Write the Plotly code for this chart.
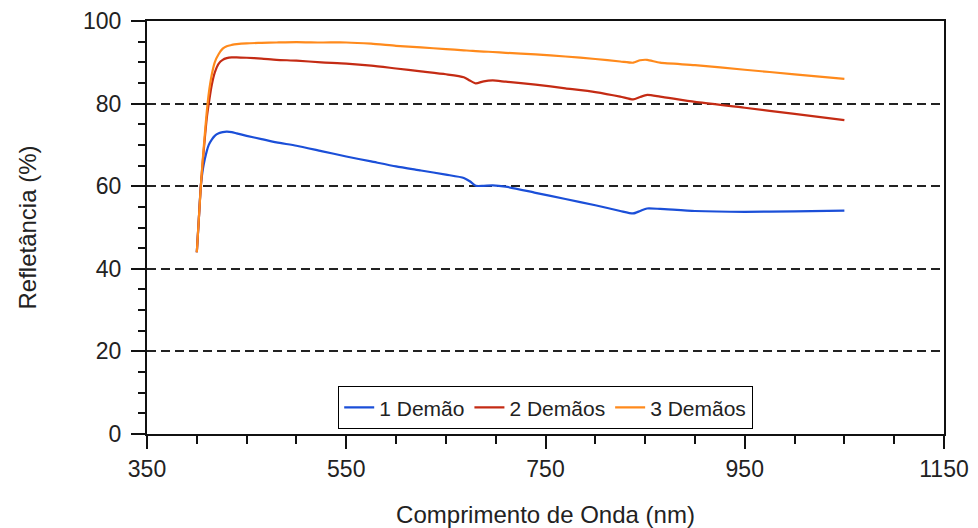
import plotly.graph_objects as go

wavelength = [400, 402, 404, 406, 408, 410, 412, 415, 418, 422, 426, 430, 435, 440, 450,
              465, 480, 500, 525, 550, 575, 600, 625, 650, 668, 674, 680, 688, 697, 710,
              740, 770, 800, 825, 838, 845, 852, 865, 900, 950, 1000, 1050]

demao_1 = [44, 52, 60, 64, 66.5, 68.5, 70, 71.3, 72.2, 72.8, 73.1, 73.2, 73.1, 72.8, 72.2,
           71.4, 70.6, 69.8, 68.5, 67.2, 66, 64.8, 63.8, 62.8, 62, 61.2, 60.1, 60.1, 60.2, 59.9,
           58.4, 56.9, 55.4, 54, 53.4, 54, 54.6, 54.5, 54, 53.8, 53.9, 54.1]

demao_2 = [44, 52, 60, 66, 71.5, 76.5, 80, 84.5, 87.5, 89.7, 90.6, 91, 91.2, 91.2, 91.1,
           90.9, 90.6, 90.4, 90, 89.7, 89.2, 88.5, 87.8, 87.1, 86.4, 85.6, 84.9, 85.4, 85.6, 85.3,
           84.6, 83.7, 82.8, 81.7, 81, 81.6, 82.1, 81.7, 80.4, 79, 77.5, 76]

demao_3 = [44, 52, 60, 66.5, 72.5, 78, 82.5, 87, 90, 92, 93.3, 93.9, 94.2, 94.4, 94.6,
           94.7, 94.8, 94.9, 94.8, 94.8, 94.5, 94.0, 93.6, 93.2, 92.9, 92.8, 92.7, 92.6, 92.5, 92.3,
           91.9, 91.4, 90.8, 90.2, 89.9, 90.5, 90.6, 89.9, 89.3, 88.2, 87.1, 86]

series_names = ["1 Demão", "2 Demãos", "3 Demãos"]
series_values = [demao_1, demao_2, demao_3]
series_colors = ["#1b4fd8", "#c42b14", "#ff8a1c"]

x_ticks = [350, 550, 750, 950, 1150]
y_ticks = [0, 20, 40, 60, 80, 100]

FONT = "Liberation Sans, Arial, sans-serif"

fig = go.Figure()
for name, vals, col in zip(series_names, series_values, series_colors):
    fig.add_trace(go.Scatter(x=wavelength, y=vals, mode="lines", name=name,
                             line=dict(color=col, width=2.2, shape="spline", smoothing=0.6)))

fig.update_layout(
    width=978, height=528,
    margin=dict(l=147, r=34, t=21, b=94, autoexpand=False),
    paper_bgcolor="white", plot_bgcolor="white",
    font=dict(family=FONT, size=22, color="#222"),
    legend=dict(orientation="h", x=0.5, xanchor="center", y=0.012, yanchor="bottom",
                bordercolor="black", borderwidth=1.2, bgcolor="white",
                font=dict(size=21, color="#222"), itemwidth=30, tracegroupgap=0),
    showlegend=True,
)

fig.update_xaxes(
    automargin=False,
    range=[350, 1150], tickvals=x_ticks, ticktext=[str(v) for v in x_ticks],
    showline=True, linecolor="#111", linewidth=2, mirror=True,
    ticks="outside", ticklen=13, tickwidth=2, tickcolor="#111",
    minor=dict(dtick=50, tick0=350, ticks="outside", ticklen=8, tickwidth=2, tickcolor="#111"),
    showgrid=False, zeroline=False,
    tickfont=dict(size=23, color="#222"),
    title=dict(text="Comprimento de Onda (nm)", font=dict(size=24, color="#222"), standoff=26),
)

fig.update_yaxes(
    automargin=False,
    range=[0, 100], tickvals=y_ticks, ticktext=[str(v) for v in y_ticks],
    showline=True, linecolor="#111", linewidth=2, mirror=True,
    ticks="outside", ticklen=14, tickwidth=2, tickcolor="#111",
    minor=dict(dtick=5, ticks="outside", ticklen=7, tickwidth=2, tickcolor="#111", showgrid=False),
    showgrid=True, gridcolor="#222", gridwidth=1.5, griddash="9px,5px",
    zeroline=False,
    tickfont=dict(size=23, color="#222"),
    ticklabelstandoff=5,
    title=dict(text="Refletância (%)", font=dict(size=24, color="#222"), standoff=40),
)

fig.write_html("out.html")
